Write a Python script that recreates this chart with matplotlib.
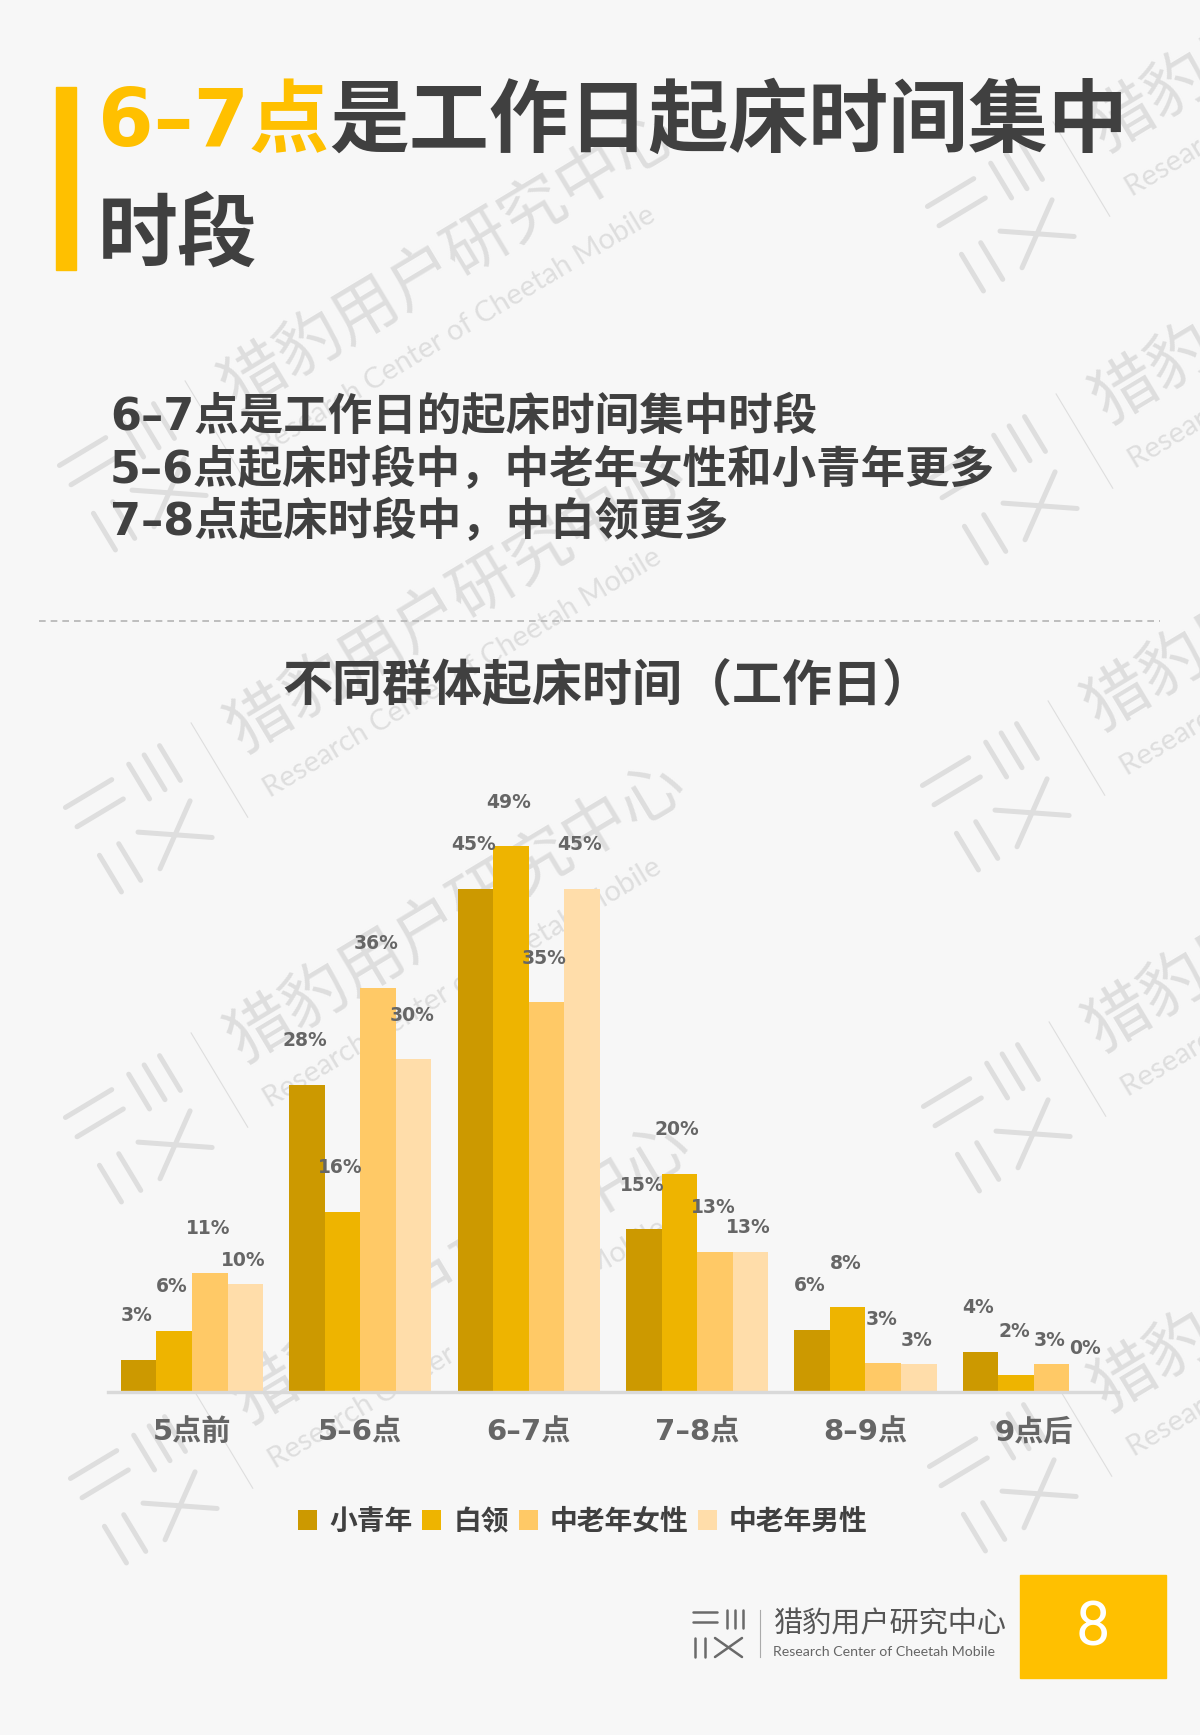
import math
import matplotlib
matplotlib.use("Agg")
import matplotlib.pyplot as plt
import numpy as np
from matplotlib.patches import Rectangle
from matplotlib.font_manager import FontProperties

# ---------------- data ----------------
categories = ["5点前", "5–6点", "6–7点", "7–8点", "8–9点", "9点后"]
series_names = ["小青年", "白领", "中老年女性", "中老年男性"]
youth = [2.9, 27.6, 45.2, 14.6, 5.6, 3.6]
white_collar = [5.5, 16.2, 49.0, 19.6, 7.6, 1.5]
older_female = [10.7, 36.3, 35.0, 12.6, 2.6, 2.5]
older_male = [9.7, 29.9, 45.2, 12.6, 2.5, 0.0]
series_colors = ["#CC9900", "#EEB400", "#FFC966", "#FFDDAA"]

title_highlight = "6–7点"
title_rest_1 = "是工作日起床时间集中"
title_rest_2 = "时段"
bullets = ["6–7点是工作日的起床时间集中时段",
           "5–6点起床时段中，中老年女性和小青年更多",
           "7–8点起床时段中，中白领更多"]
chart_title = "不同群体起床时间（工作日）"
brand_cn = "猎豹用户研究中心"
brand_en = "Research Center of Cheetah Mobile"
page_no = "8"

# ---------------- figure ----------------
W, H = 1200, 1735
BG = "#F7F7F7"
CJK = ["Noto Sans CJK SC", "DejaVu Sans"]
MIX = ["DejaVu Sans", "Noto Sans CJK SC"]
DARK = "#404040"
YELLOW = "#FFC000"
WM = "#DEDEDE"

fig = plt.figure(figsize=(W / 100, H / 100), dpi=100, facecolor=BG)

# pixel-coordinate background axes for decorations
pa = fig.add_axes([0, 0, 1, 1], zorder=0)
pa.set_xlim(0, W)
pa.set_ylim(H, 0)
pa.axis("off")

LOGO_SEGS = [(-25, -21, -1, -21), (-25, -11, -1, -11),
             (9, -23, 9, -5), (17, -23, 17, -5), (25, -23, 25, -5),
             (-23, 5, -23, 24), (-13, 5, -13, 24),
             (-3, 5, 24, 24), (-3, 24, 24, 5)]


def draw_logo(cx, cy, k, ang, color, lw):
    th = math.radians(ang)
    c, s = math.cos(th), math.sin(th)

    def P(lx, lup):
        return cx + lx * c - lup * s, cy - (lx * s + lup * c)

    for x1, y1, x2, y2 in LOGO_SEGS:
        p1 = P(x1 * k, -y1 * k)
        p2 = P(x2 * k, -y2 * k)
        pa.plot([p1[0], p2[0]], [p1[1], p2[1]], color=color, lw=lw,
                solid_capstyle="round", zorder=1)
    return P


# watermark tiles
tiles = [(132, 477), (138, 819), (138, 1129), (143, 1490),
         (1000, 218), (1003, 490), (995, 797), (996, 1118), (1002, 1478)]
ANG = 31
for cx, cy in tiles:
    P = draw_logo(cx, cy, 2.25, ANG, WM, 3.6)
    a, b = P(95, 55), P(95, -55)
    pa.plot([a[0], b[0]], [a[1], b[1]], color=WM, lw=0.8, zorder=1)
    x, y = P(124, 20)
    pa.text(x, y, brand_cn, rotation=ANG, rotation_mode="anchor", ha="left",
            va="center", fontsize=47, fontweight="light", color=WM,
            family=CJK, zorder=1)
    x, y = P(124, -42)
    pa.text(x, y, brand_en, rotation=ANG, rotation_mode="anchor", ha="left",
            va="center", fontsize=21, color=WM, family=["Lato", "DejaVu Sans"],
            zorder=1)

# title
pa.add_patch(Rectangle((56, 87), 20, 183, color=YELLOW, zorder=3))
t1 = pa.text(98, 124, title_highlight, color=YELLOW, fontsize=57.5,
             fontweight="bold", va="center", ha="left", family=MIX, zorder=3)
pa.annotate(title_rest_1, xy=(1, 0.5), xycoords=t1, va="center", ha="left",
            color=DARK, fontsize=57.5, fontweight="bold", family=MIX, zorder=3)
pa.text(98, 238, title_rest_2, color=DARK, fontsize=57.5, fontweight="bold",
        va="center", ha="left", family=MIX, zorder=3)

# bullet lines
for i, line in enumerate(bullets):
    pa.text(110, 418 + 52 * i, line, color=DARK, fontsize=32,
            fontweight="bold", va="center", ha="left", family=MIX, zorder=3)

# dashed separator
pa.plot([39, 1160], [621, 621], color="#B4B4B4", lw=1.2,
        linestyle=(0, (4, 3)), zorder=3)

# chart title
pa.text(607, 686, chart_title, color=DARK, fontsize=36, fontweight="bold",
        ha="center", va="center", family=CJK, zorder=3)

# footer
draw_logo(718, 1633, 1.0, 0, "#6A6A6A", 1.8)
pa.plot([760, 760], [1610, 1657], color="#AAAAAA", lw=0.8, zorder=3)
pa.text(773, 1624, brand_cn, color="#555555", fontsize=21, ha="left",
        va="center", family=CJK, zorder=3)
pa.text(773, 1652, brand_en, color="#666666", fontsize=10.2, ha="left",
        va="center", family=["Lato", "DejaVu Sans"], zorder=3)
pa.add_patch(Rectangle((1020, 1575), 146, 103, color=YELLOW, zorder=3))
pa.text(1093, 1628, page_no, color="white", fontsize=44, ha="center",
        va="center", family=["Roboto", "DejaVu Sans"], zorder=4)

# ---------------- chart ----------------
base_y, top_y = 1392, 724
left_x, right_x = 107.8, 1118
ax = fig.add_axes([left_x / W, (H - base_y) / H, (right_x - left_x) / W,
                   (base_y - top_y) / H], zorder=1)
ax.set_facecolor("none")
ax.set_xlim(-0.5, len(categories) - 0.5)
ax.set_ylim(0, 60)

x = np.arange(len(categories))
bw = 0.211
all_series = [youth, white_collar, older_female, older_male]
handles = []
prev_vals = [None] * len(categories)
for i, (vals, col, name) in enumerate(zip(all_series, series_colors, series_names)):
    xs = x + (i - 1.5) * bw
    bars = ax.bar(xs, vals, width=bw, color=col, label=name, zorder=2,
                  linewidth=0)
    handles.append(bars)
    for g, (xi, v) in enumerate(zip(xs, vals)):
        dy = 44
        # lower a label that would collide with its left neighbour's label
        if prev_vals[g] is not None and abs(prev_vals[g] - v) < 1.8:
            dy = 24
        prev_vals[g] = v if dy == 44 else None
        ax.annotate(f"{int(v + 0.5)}%", xy=(xi, v), xytext=(-2, dy),
                    textcoords="offset pixels", ha="center", va="center",
                    fontsize=13.5, fontweight="bold", color="#666666",
                    family=["DejaVu Sans"], zorder=3, annotation_clip=False)

for side in ["left", "right", "top"]:
    ax.spines[side].set_visible(False)
ax.spines["bottom"].set_color("#D9D9D9")
ax.spines["bottom"].set_linewidth(2.4)
ax.set_yticks([])
ax.set_xticks(x)
ax.set_xticklabels(categories, fontsize=21, fontweight="bold",
                   color="#666666", family=MIX)
ax.tick_params(axis="x", length=0, pad=19)

leg_prop = FontProperties(family=CJK, weight="bold", size=20)
fig.legend(handles, series_names, loc="center",
           bbox_to_anchor=(583 / W, 1 - 1522 / H), ncol=4, frameon=False,
           prop=leg_prop, labelcolor=DARK, handlelength=0.68,
           handleheight=0.72, handletextpad=0.43, columnspacing=0.36,
           borderpad=0)

fig.savefig("out.png", dpi=100, facecolor=BG)
